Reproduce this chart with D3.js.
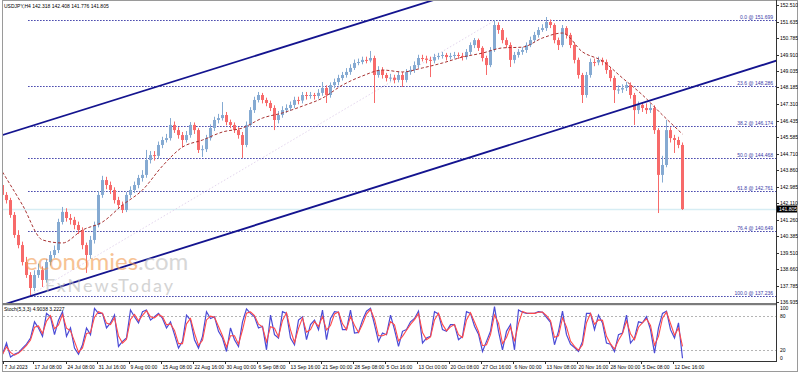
<!DOCTYPE html>
<html>
<head>
<meta charset="utf-8">
<script src="https://cdn.jsdelivr.net/npm/d3@7"></script>
<style>
	body { margin: 0; background: #fff; }
	svg { display: block; font-family: "Liberation Sans", Arial, sans-serif; }
</style>
</head>
<body>
<svg id="chart" width="798" height="372"></svg>
<script>
const title = 'USDJPY,H4  142.318 142.408 141.776 141.805'
const stochTitle = 'Stoch(5,3,3) 4.9038 3.2227'

// one candle per 4 H4 bars
const opens = [143.07,142.55,142.28,141.50,140.45,139.92,139.03,138.35,137.67,138.35,
	138.61,138.09,139.03,139.40,139.66,141.13,141.66,141.34,141.24,140.97,
	140.71,139.92,139.40,140.19,140.97,142.55,143.33,143.07,142.81,142.28,
	142.02,141.76,142.55,142.81,143.07,143.44,143.60,144.38,144.64,144.60,
	145.17,145.43,145.53,146.22,145.95,145.69,145.43,145.69,146.22,145.95,
	144.91,144.95,145.53,146.06,146.48,146.58,146.74,146.37,146.22,145.95,
	145.69,145.17,146.22,147.00,147.53,147.79,147.53,147.37,147.11,146.48,
	146.74,147.00,147.11,147.27,147.53,147.50,147.79,147.74,147.79,147.74,
	147.90,148.16,147.79,148.31,148.47,148.68,148.84,149.00,149.21,149.47,
	149.52,149.63,149.60,149.73,148.84,149.10,148.84,148.68,148.70,148.58,
	148.84,148.58,149.00,149.10,149.36,149.73,149.70,149.63,149.60,149.78,
	149.84,149.89,149.78,149.84,149.89,149.84,149.78,150.05,150.41,150.67,
	150.26,149.73,149.36,150.15,151.46,151.20,150.67,150.41,149.63,149.89,
	150.05,150.15,150.41,150.67,150.94,151.20,151.30,151.62,151.46,150.67,
	150.41,151.30,150.94,150.41,149.63,148.84,147.79,148.84,149.52,149.50,
	149.63,149.52,149.10,148.68,148.05,148.08,148.16,148.31,147.79,147.00,
	147.27,147.11,147.00,147.11,145.95,143.60,144.12,145.95,145.53,145.43,
	145.17]
const highs = [143.44,142.70,142.40,141.65,140.70,140.10,139.30,138.50,138.60,138.95,
	138.80,139.20,139.60,139.90,141.30,141.92,141.85,141.55,141.40,141.15,
	140.85,140.05,140.40,141.15,142.75,143.55,143.50,143.25,142.95,142.45,
	142.20,142.70,143.00,143.25,143.60,143.85,144.91,144.85,144.85,145.35,
	145.60,145.75,146.58,146.40,146.10,145.85,145.90,146.37,146.35,146.05,
	145.15,145.70,146.25,146.65,146.80,147.42,146.90,146.50,146.35,146.10,
	145.85,146.40,147.15,147.70,147.95,147.90,147.65,147.50,147.25,146.95,
	147.20,147.30,147.45,147.70,147.70,147.95,147.95,147.95,147.90,148.10,
	148.47,148.30,148.45,148.65,148.85,149.00,149.20,149.40,149.65,149.70,
	149.80,149.80,150.10,149.85,149.30,149.25,148.95,148.90,148.85,149.00,
	149.00,149.15,149.30,149.55,149.90,149.90,149.85,149.80,149.95,150.00,
	150.05,150.00,150.00,150.05,150.02,150.00,150.20,150.55,150.78,150.75,
	150.35,149.85,150.30,151.72,151.60,151.30,150.80,150.55,150.05,150.20,
	150.30,150.55,150.85,151.10,151.35,151.50,151.88,151.75,151.55,150.80,
	151.46,151.40,151.05,150.55,149.75,148.95,149.00,149.70,149.70,149.80,
	149.75,149.65,149.25,148.80,148.30,148.35,148.47,148.45,147.90,147.45,
	147.40,147.35,147.35,147.25,146.05,144.60,146.48,146.10,145.70,145.60,
	145.30]
const lows = [142.40,142.10,141.35,140.30,139.75,138.85,138.20,137.24,137.50,138.20,
	137.72,137.95,138.85,139.25,139.50,141.00,141.15,141.00,140.75,140.50,
	139.70,138.46,139.20,140.00,140.85,142.40,142.85,142.60,142.10,141.85,
	141.60,141.65,142.40,142.65,142.90,143.25,143.45,144.20,144.35,144.45,
	145.00,145.30,145.40,145.80,145.50,145.06,145.30,145.55,145.75,144.75,
	144.54,144.80,145.40,145.90,146.30,146.45,146.20,146.05,145.80,145.50,
	144.49,145.05,146.10,146.85,147.40,147.35,147.20,146.95,145.95,146.30,
	146.60,146.85,146.95,147.10,147.30,147.35,147.55,147.60,147.55,147.60,
	147.75,147.37,147.65,148.15,148.30,148.55,148.70,148.85,149.10,149.35,
	149.40,149.45,149.50,147.37,148.70,148.65,148.50,148.50,148.40,148.45,
	148.21,148.45,148.85,148.95,149.20,149.55,149.45,148.73,149.45,149.65,
	149.70,149.60,149.65,149.70,149.68,149.60,149.65,149.90,150.25,150.10,
	149.55,148.84,149.25,150.05,151.00,150.50,150.25,149.26,149.45,149.75,
	149.90,150.00,150.30,150.55,150.80,151.10,151.15,151.30,150.50,150.15,
	150.30,150.75,150.25,149.45,148.65,147.37,147.65,148.70,149.30,149.35,
	149.35,148.90,148.50,147.37,147.85,147.90,148.00,147.60,146.22,146.80,
	146.90,146.80,146.85,145.75,141.60,143.20,144.00,145.30,144.75,145.00,
	141.76]
const closes = [142.55,142.28,141.50,140.45,139.92,139.03,138.35,137.67,138.35,138.61,
	138.09,139.03,139.40,139.66,141.13,141.66,141.34,141.24,140.97,140.71,
	139.92,139.40,140.19,140.97,142.55,143.33,143.07,142.81,142.28,142.02,
	141.76,142.55,142.81,143.07,143.44,143.60,144.38,144.64,144.60,145.17,
	145.43,145.53,146.22,145.95,145.69,145.43,145.69,146.22,145.95,144.91,
	144.95,145.53,146.06,146.48,146.58,146.74,146.37,146.22,145.95,145.69,
	145.17,146.22,147.00,147.53,147.79,147.53,147.37,147.11,146.48,146.74,
	147.00,147.11,147.27,147.53,147.50,147.79,147.74,147.79,147.74,147.90,
	148.16,147.79,148.31,148.47,148.68,148.84,149.00,149.21,149.47,149.52,
	149.63,149.60,149.73,148.84,149.10,148.84,148.68,148.70,148.58,148.84,
	148.58,149.00,149.10,149.36,149.73,149.70,149.63,149.60,149.78,149.84,
	149.89,149.78,149.84,149.89,149.84,149.78,150.05,150.41,150.67,150.26,
	149.73,149.36,150.15,151.46,151.20,150.67,150.41,149.63,149.89,150.05,
	150.15,150.41,150.67,150.94,151.20,151.30,151.62,151.46,150.67,150.41,
	151.30,150.94,150.41,149.63,148.84,147.79,148.84,149.52,149.50,149.63,
	149.52,149.10,148.68,148.05,148.08,148.16,148.31,147.79,147.00,147.27,
	147.11,147.00,147.11,145.95,143.60,144.12,145.95,145.53,145.43,145.17,
	141.81]

// moving average read every 5 candles
const maStep = 5
const maValues = [143.75,142.02,140.19,140.03,140.71,141.13,142.02,142.81,144.07,145.06,
	145.43,145.85,146.06,146.58,146.85,147.21,147.63,148.31,148.79,149.10,
	149.00,149.21,149.47,149.78,149.99,150.26,150.30,150.78,151.04,150.05,
	149.57,148.68,147.79,146.74,145.74]

const stochMain = [12,32,7,12,15,23,30,41,70,59,44,85,79,47,73,88,44,59,23,12,
	29,59,47,94,85,85,59,68,82,26,35,41,91,79,68,88,91,73,79,85,
	76,59,70,47,23,35,82,73,38,23,44,88,76,79,53,41,17,59,38,26,
	70,93,85,79,59,62,20,82,47,41,88,85,41,29,73,79,38,65,73,56,
	91,38,76,88,87,56,56,91,50,51,73,89,94,65,35,50,47,82,56,26,
	53,56,70,76,89,32,41,44,88,84,56,53,65,65,38,44,88,85,62,48,
	17,35,53,97,53,20,53,65,20,91,87,85,85,85,88,87,78,69,29,53,
	89,47,30,24,17,35,85,85,56,82,68,32,30,17,47,50,82,32,41,70,
	68,79,56,14,59,85,89,56,41,68,5]

const fibLevels = [0, 23.6, 38.2, 50, 61.8, 76.4, 100]
const fibPrices = [151.699, 148.286, 146.174, 144.468, 142.761, 140.649, 137.236]
const fibFrom = 6.4
const fibTo = 123.1

const channelUpper = [[0, 145.69], [100, 152.26]]
const channelLower = [[0, 136.78], [193, 149.56]]

const lastPrice = 141.805
const priceTicks = [152.510, 151.635, 150.785, 149.910, 149.035, 148.185, 147.310, 146.435, 145.585,
	144.710, 143.860, 142.985, 142.110, 141.260, 140.385, 139.510, 138.660, 137.785, 136.935]
const stochTicks = [100, 80, 20, 0]
const dateLabels = ['7 Jul 2023', '17 Jul 08:00', '24 Jul 08:00', '31 Jul 16:00', '9 Aug 00:00', '15 Aug 08:00',
	'22 Aug 16:00', '30 Aug 00:00', '6 Sep 08:00', '13 Sep 16:00', '21 Sep 00:00', '28 Sep 08:00',
	'5 Oct 16:00', '13 Oct 00:00', '20 Oct 08:00', '27 Oct 16:00', '6 Nov 00:00', '13 Nov 08:00',
	'20 Nov 16:00', '28 Nov 00:00', '5 Dec 08:00', '12 Dec 16:00']
const datePos = [0.1, 7.6, 15.9, 23.6, 31.6, 39.6, 47.6, 55.6, 63.6, 71.6, 79.6, 87.6,
	95.6, 103.6, 111.6, 119.6, 127.6, 135.6, 143.6, 151.6, 159.6, 167.6]

const svg = d3.select('#chart')
const W = 798, axisX = 776, mainBottom = 303, stochTop = 305, stochBottom = 361

const xScale = d3.scaleLinear().domain([0, 193]).range([2.5, 774.5])
const yScale = d3.scaleLinear().domain([136.935, 152.510]).range([302, 5])
const sScale = d3.scaleLinear().domain([0, 100]).range([stochBottom, stochTop])

svg.append('defs').append('clipPath').attr('id', 'mainClip')
	.append('rect').attr('x', 3).attr('y', 1).attr('width', axisX - 3).attr('height', mainBottom - 1)
svg.select('defs').append('clipPath').attr('id', 'stochClip')
	.append('rect').attr('x', 3).attr('y', stochTop).attr('width', axisX - 3).attr('height', stochBottom - stochTop)

// frame
svg.append('rect').attr('x', 2.5).attr('y', 0.5).attr('width', W - 3).attr('height', 371)
	.attr('fill', 'none').attr('stroke', '#9a9a9a')
svg.append('rect').attr('x', 2.5).attr('y', mainBottom).attr('width', axisX - 2.5).attr('height', 2.2)
	.attr('fill', '#7b7b7b')
svg.append('line').attr('x1', 2.5).attr('x2', axisX).attr('y1', stochBottom + 0.5).attr('y2', stochBottom + 0.5)
	.attr('stroke', '#333')
svg.append('line').attr('x1', axisX + 0.5).attr('x2', axisX + 0.5).attr('y1', 0).attr('y2', stochBottom + 1)
	.attr('stroke', '#333')

const main = svg.append('g').attr('clip-path', 'url(#mainClip)')

// current price line
main.append('line')
	.attr('x1', 3).attr('x2', axisX)
	.attr('y1', Math.round(yScale(lastPrice)) + 0.5).attr('y2', Math.round(yScale(lastPrice)) + 0.5)
	.attr('stroke', '#d6edf4').attr('stroke-width', 1.5)

// fibonacci retracement
main.append('line')
	.attr('x1', xScale(fibFrom)).attr('y1', yScale(fibPrices[6]))
	.attr('x2', xScale(fibTo)).attr('y2', yScale(fibPrices[0]))
	.attr('stroke', '#e4d6ee').attr('stroke-dasharray', '1.5,2').attr('stroke-width', 1)

fibLevels.forEach((lv, i) => {
	const y = Math.round(yScale(fibPrices[i])) + 0.5
	main.append('line')
		.attr('x1', xScale(fibFrom)).attr('x2', axisX)
		.attr('y1', y).attr('y2', y)
		.attr('stroke', '#3c3ca8').attr('stroke-dasharray', '1.5,1.5').attr('stroke-width', 1)
	svg.append('text')
		.attr('x', axisX - 3).attr('y', y - 1.5)
		.attr('text-anchor', 'end').attr('font-size', 5).attr('fill', '#3c3ca8')
		.text(lv.toFixed(1) + ' @ ' + fibPrices[i].toFixed(3))
})

// candles
const bull = '#85aad2', bear = '#f76a6a'
for (let i = 0; i < closes.length; i++) {
	const color = closes[i] >= opens[i] ? bull : bear
	const cx = xScale(i)
	main.append('line')
		.attr('x1', cx).attr('x2', cx)
		.attr('y1', yScale(highs[i])).attr('y2', yScale(lows[i]))
		.attr('stroke', color).attr('stroke-width', 1)
	const top = yScale(Math.max(opens[i], closes[i]))
	const h = Math.max(1, Math.abs(yScale(opens[i]) - yScale(closes[i])))
	main.append('rect')
		.attr('x', cx - 1.5).attr('y', top)
		.attr('width', 3).attr('height', h)
		.attr('fill', color)
}

// moving average
const maLine = d3.line()
	.x((d, i) => xScale(i * maStep))
	.y(d => yScale(d))
	.curve(d3.curveMonotoneX)
main.append('path')
	.attr('d', maLine(maValues))
	.attr('fill', 'none').attr('stroke', '#a83232').attr('stroke-width', 1)
	.attr('stroke-dasharray', '3,2')

// channel lines
const drawTrend = function(pts) {
	const ext = d3.scaleLinear().domain([pts[0][0], pts[1][0]]).range([pts[0][1], pts[1][1]])
	main.append('line')
		.attr('x1', xScale(-2)).attr('y1', yScale(ext(-2)))
		.attr('x2', xScale(195)).attr('y2', yScale(ext(195)))
		.attr('stroke', '#14148f').attr('stroke-width', 1.8)
}
drawTrend(channelUpper)
drawTrend(channelLower)

// watermark
const wm = svg.append('g').attr('opacity', 0.6)
const wm1 = wm.append('text').attr('x', 25).attr('y', 270)
	.attr('font-size', 24).attr('font-family', 'Lato, "Liberation Sans", sans-serif')
wm1.append('tspan').attr('fill', '#f29a4e').text('economies')
wm1.append('tspan').attr('fill', '#bdbdbd').text('.com')
wm.append('text').attr('x', 45).attr('y', 292)
	.attr('font-size', 18).attr('font-family', 'Lato, "Liberation Sans", sans-serif')
	.attr('textLength', 128).attr('fill', '#b8b8b8').text('FxNewsToday')

// header
svg.append('text').attr('x', 4).attr('y', 8).attr('font-size', 5).attr('fill', '#000').text(title)

// price axis
priceTicks.forEach(v => {
	const y = Math.round(yScale(v)) + 0.5
	svg.append('line').attr('x1', axisX).attr('x2', axisX + 3).attr('y1', y).attr('y2', y).attr('stroke', '#333')
	svg.append('text').attr('x', axisX + 4).attr('y', y + 1.8)
		.attr('font-size', 5).attr('fill', '#000').text(v.toFixed(3))
})
const ly = Math.round(yScale(lastPrice))
svg.append('rect').attr('x', axisX + 1).attr('y', ly - 3.5).attr('width', 20).attr('height', 7).attr('fill', '#000')
svg.append('text').attr('x', axisX + 3).attr('y', ly + 1.8)
	.attr('font-size', 5).attr('fill', '#fff').text(lastPrice.toFixed(3))

// stochastic panel
const stoch = svg.append('g').attr('clip-path', 'url(#stochClip)')
;[80, 20].forEach(v => {
	stoch.append('line').attr('x1', 3).attr('x2', axisX)
		.attr('y1', Math.round(sScale(v)) + 0.5).attr('y2', Math.round(sScale(v)) + 0.5)
		.attr('stroke', '#b4b4b4').attr('stroke-dasharray', '2,2')
})
// %D: smoothing of %K
const stochSignal = stochMain.map((v, i) => i === 0 ? v : (stochMain[i - 1] + 2 * v) / 3)
const sLine = d3.line().x((d, i) => xScale(i)).y(d => sScale(d))
stoch.append('path').attr('d', sLine(stochMain))
	.attr('fill', 'none').attr('stroke', '#4b4bd6').attr('stroke-width', 1.2)
stoch.append('path').attr('d', sLine(stochSignal))
	.attr('fill', 'none').attr('stroke', '#ff4a4a').attr('stroke-width', 1.1)

svg.append('text').attr('x', 4).attr('y', 311).attr('font-size', 5).attr('fill', '#000').text(stochTitle)
stochTicks.forEach(v => {
	let y = sScale(v) + 1.8
	if (v === 100) y = sScale(v) + 4.5
	if (v === 0) y = sScale(v) - 1.5
	svg.append('text').attr('x', axisX + 4).attr('y', y)
		.attr('font-size', 5).attr('fill', '#000').text(v)
})

// time axis
dateLabels.forEach((t, i) => {
	const x = Math.round(xScale(datePos[i])) + 0.5
	svg.append('line').attr('x1', x).attr('x2', x).attr('y1', stochBottom).attr('y2', stochBottom + 3).attr('stroke', '#333')
	svg.append('text').attr('x', x + 1).attr('y', 368.5)
		.attr('font-size', 5).attr('fill', '#000').text(t)
})
</script>
</body>
</html>
